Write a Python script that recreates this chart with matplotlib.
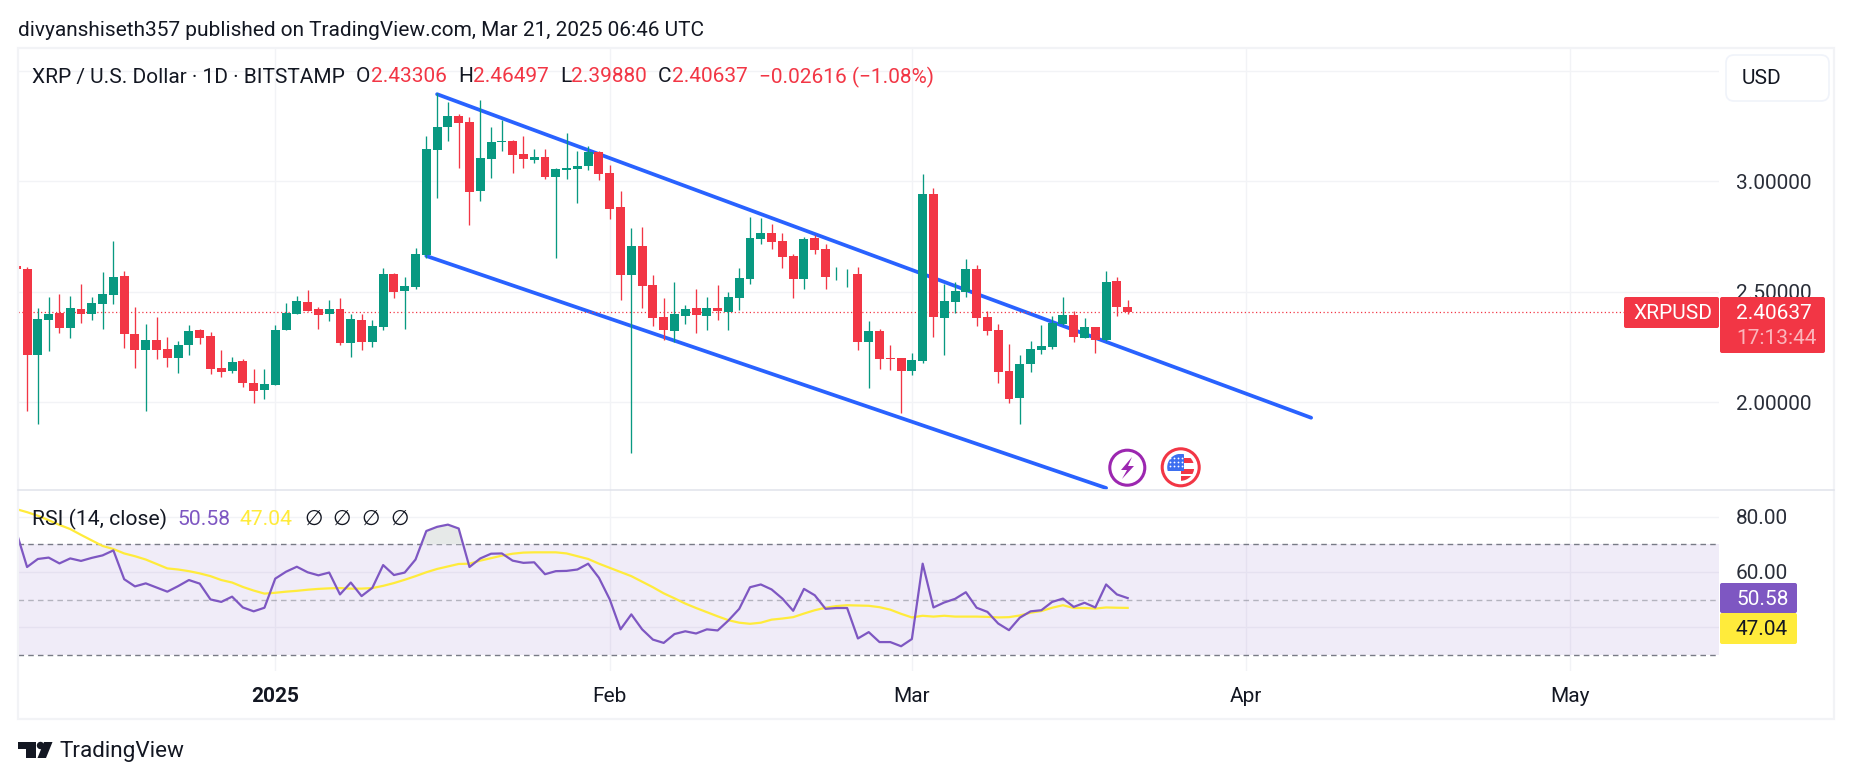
import numpy as np
import matplotlib
matplotlib.use("Agg")
import matplotlib.pyplot as plt
from matplotlib.patches import Rectangle, FancyBboxPatch, Circle, Polygon

W, H = 1852, 781

# daily candles, day 0 = 1 Jan 2025
days = np.arange(-24, 80)
opens = [2.617, 2.603, 2.214, 2.372, 2.404, 2.336, 2.422, 2.400, 2.445, 2.486, 2.572, 2.309, 2.237, 2.282, 2.241, 2.200, 2.259, 2.327, 2.300, 2.155, 2.142, 2.187, 2.087, 2.056,
         2.078, 2.327, 2.400, 2.454, 2.422, 2.400, 2.422, 2.268, 2.372, 2.273, 2.341, 2.581, 2.504, 2.522, 2.667, 3.142, 3.246, 3.296, 3.268, 2.956, 3.101, 3.179, 3.182, 3.124, 3.096, 3.110, 3.020, 3.051, 3.056, 3.069, 3.133, 3.038,
         2.884, 2.576, 2.707, 2.531, 2.386, 2.323, 2.391, 2.427, 2.391, 2.427, 2.409, 2.472, 2.558, 2.739, 2.766, 2.730, 2.662, 2.558, 2.744, 2.694, 2.574, 2.574, 2.581, 2.273, 2.323, 2.202, 2.201, 2.142,
         2.187, 2.943, 2.382, 2.454, 2.499, 2.603, 2.386, 2.327, 2.142, 2.020, 2.173, 2.237, 2.250, 2.354, 2.395, 2.291, 2.341, 2.282, 2.549, 2.43306]
highs = [2.617, 2.611, 2.427, 2.477, 2.490, 2.481, 2.535, 2.477, 2.590, 2.730, 2.594, 2.431, 2.354, 2.386, 2.296, 2.277, 2.350, 2.332, 2.318, 2.237, 2.205, 2.196, 2.151, 2.151,
         2.350, 2.449, 2.481, 2.508, 2.431, 2.463, 2.472, 2.400, 2.400, 2.372, 2.608, 2.585, 2.567, 2.698, 3.205, 3.401, 3.359, 3.305, 3.291, 3.368, 3.246, 3.277, 3.187, 3.205, 3.146, 3.146, 3.060, 3.219, 3.137, 3.160, 3.137, 3.074,
         2.956, 2.789, 2.793, 2.576, 2.472, 2.544, 2.440, 2.513, 2.477, 2.531, 2.499, 2.608, 2.839, 2.834, 2.807, 2.766, 2.671, 2.748, 2.757, 2.716, 2.612, 2.603, 2.612, 2.368, 2.332, 2.259, 2.201, 2.223,
         3.033, 2.970, 2.535, 2.544, 2.648, 2.621, 2.413, 2.354, 2.264, 2.214, 2.277, 2.350, 2.391, 2.477, 2.413, 2.382, 2.341, 2.594, 2.567, 2.46497]
lows = [2.603, 1.961, 1.902, 2.232, 2.314, 2.291, 2.359, 2.372, 2.332, 2.445, 2.246, 2.155, 1.961, 2.196, 2.160, 2.133, 2.214, 2.264, 2.128, 2.115, 2.133, 2.069, 1.997, 2.015,
        2.078, 2.327, 2.400, 2.413, 2.332, 2.368, 2.259, 2.205, 2.237, 2.250, 2.327, 2.472, 2.332, 2.513, 2.653, 2.925, 3.182, 3.060, 2.802, 2.911, 3.015, 3.137, 3.038, 3.060, 3.083, 3.010, 2.653, 3.010, 2.902, 3.051, 3.006, 2.829,
        2.463, 1.771, 2.427, 2.345, 2.282, 2.273, 2.354, 2.314, 2.327, 2.372, 2.327, 2.418, 2.535, 2.716, 2.694, 2.608, 2.472, 2.513, 2.671, 2.513, 2.553, 2.522, 2.237, 2.065, 2.151, 2.146, 1.952, 2.124,
        2.178, 2.296, 2.214, 2.404, 2.477, 2.345, 2.305, 2.087, 1.997, 1.902, 2.137, 2.219, 2.241, 2.350, 2.273, 2.291, 2.223, 2.277, 2.391, 2.39880]
closes = [2.603, 2.214, 2.377, 2.400, 2.336, 2.427, 2.400, 2.449, 2.490, 2.567, 2.309, 2.237, 2.282, 2.237, 2.200, 2.259, 2.323, 2.291, 2.151, 2.137, 2.182, 2.087, 2.051, 2.083,
          2.327, 2.404, 2.458, 2.413, 2.395, 2.422, 2.268, 2.377, 2.273, 2.345, 2.581, 2.499, 2.526, 2.671, 3.146, 3.246, 3.296, 3.264, 2.952, 3.105, 3.178, 3.182, 3.119, 3.101, 3.110, 3.020, 3.056, 3.060, 3.069, 3.133, 3.033, 2.875,
          2.576, 2.707, 2.526, 2.382, 2.327, 2.400, 2.422, 2.395, 2.427, 2.413, 2.477, 2.562, 2.744, 2.766, 2.725, 2.658, 2.558, 2.739, 2.689, 2.567, 2.578, 2.578, 2.273, 2.323, 2.196, 2.198, 2.142, 2.191,
          2.943, 2.386, 2.458, 2.504, 2.603, 2.382, 2.323, 2.137, 2.015, 2.173, 2.241, 2.255, 2.359, 2.395, 2.296, 2.341, 2.282, 2.544, 2.431, 2.40637]

rsi = [74.6, 61.8, 64.7, 65.2, 63.1, 64.9, 64.0, 65.1, 66.0, 67.8, 57.4, 54.8, 55.9, 54.4, 52.9, 54.9, 57.1, 55.8, 50.1, 49.2, 51.1, 47.2, 45.8, 47.1,
       57.6, 60.1, 61.9, 59.9, 58.8, 59.8, 51.9, 56.2, 51.3, 54.3, 62.5, 58.9, 59.8, 64.5, 74.8, 76.3, 77.1, 75.7, 61.8, 64.9, 66.6, 66.7, 64.1, 63.3, 63.5, 59.2, 60.3, 60.4, 60.9, 63.0, 57.9, 50.1,
       39.3, 44.7, 39.3, 35.6, 34.4, 37.6, 38.6, 37.8, 39.3, 38.9, 42.5, 46.7, 54.5, 55.5, 53.7, 50.4, 46.0, 53.9, 51.6, 46.7, 47.0, 47.0, 36.0, 38.3, 34.7, 34.7, 33.2, 35.8,
       63.0, 47.2, 49.0, 50.3, 52.7, 47.1, 45.6, 41.4, 39.0, 43.5, 45.8, 46.2, 49.2, 50.4, 47.4, 48.9, 47.2, 55.5, 51.9, 50.58]
rsi_ma = [82.7, 81.6, 80.3, 78.7, 77.0, 75.5, 73.4, 71.4, 69.4, 68.3, 66.7, 65.7, 64.5, 62.9, 61.3, 60.9, 60.3, 59.5, 58.5, 57.1, 56.2, 54.6, 53.3, 52.2,
          52.5, 52.9, 53.2, 53.6, 53.9, 54.1, 54.2, 54.0, 54.0, 54.2, 55.0, 56.0, 57.2, 58.5, 59.9, 61.1, 62.0, 62.9, 63.0, 64.1, 65.0, 65.9, 66.6, 67.0, 67.1, 67.1, 67.1, 66.7, 65.7, 64.7, 63.0, 61.5,
          60.0, 58.5, 56.5, 54.5, 52.3, 50.5, 48.6, 47.0, 45.5, 44.0, 42.6, 41.7, 41.3, 41.7, 42.8, 43.2, 43.7, 45.0, 46.2, 47.1, 47.7, 48.0, 47.9, 47.8, 47.3, 46.4, 44.9, 43.6,
          44.2, 43.9, 44.2, 43.9, 43.9, 43.9, 43.8, 43.6, 43.7, 44.3, 45.3, 45.9, 47.1, 48.0, 47.0, 47.0, 46.8, 47.2, 47.1, 47.04]

# channel lines: (day, price)
upper_x = [15, 96]
upper_y = [3.394, 1.93]
lower_x = [14, 77]
lower_y = [2.662, 1.612]

last_price = 2.40637
price_ticks = [2.0, 2.5, 3.0, 3.5]
price_labels = ["2.00000", "2.50000", "3.00000", ""]
rsi_ticks = [40, 60, 80]
rsi_labels = ["", "60.00", "80.00"]
month_days = [0, 31, 59, 90, 120]
month_labels = ["2025", "Feb", "Mar", "Apr", "May"]

GREEN = "#089981"
RED = "#F23645"
BLUE = "#2962FF"
PURPLE = "#7E57C2"
YELLOW = "#FFEB3B"
TEXT = "#131722"
GRID = "#F2F3F6"

plt.rcParams["font.family"] = ["Roboto", "DejaVu Sans"]
fig = plt.figure(figsize=(W / 100, H / 100), dpi=100)


def add_ax(left, top, right, bottom):
    return fig.add_axes([left / W, 1 - bottom / H, (right - left) / W, (bottom - top) / H])


ax = add_ax(18, 48, 1719, 490)
ax2 = add_ax(18, 490, 1719, 670.7)
for a in (ax, ax2):
    a.set_xlim(-23.84, 133.8)
    a.set_xticks(month_days)
    a.grid(True, color=GRID, lw=1.0, zorder=0)
    a.set_axisbelow(True)
    a.yaxis.tick_right()
    a.tick_params(length=0, labelsize=15, labelcolor="#2A2E39")
    for s in a.spines.values():
        s.set_visible(False)
ax.set_ylim(1.603, 3.603)
ax2.set_ylim(24.37, 89.6)
ax.set_yticks(price_ticks, price_labels)
ax2.set_yticks(rsi_ticks, rsi_labels)
ax.tick_params(axis="y", pad=12)
ax2.tick_params(axis="y", pad=12)
ax.tick_params(axis="x", labelbottom=False)
ax2.set_xticklabels(month_labels)
ax2.tick_params(axis="x", pad=12, labelsize=15, labelcolor=TEXT)
ax2.get_xticklabels()[0].set_fontweight("bold")

# candles
o, h, l, c = map(np.array, (opens, highs, lows, closes))
cols = [GREEN if cc >= oo else RED for oo, cc in zip(o, c)]
ax.plot(upper_x, upper_y, color=BLUE, lw=2.7, zorder=1, solid_capstyle="round")
ax.plot(lower_x, lower_y, color=BLUE, lw=2.7, zorder=1, solid_capstyle="round")
ax.axhline(last_price, color=RED, lw=0.9, ls=(0, (1, 2)), zorder=1.5)
ax.vlines(days, l, h, colors=cols, lw=0.95, zorder=2)
ax.bar(days, np.abs(c - o), bottom=np.minimum(o, c), width=0.83, color=cols, zorder=3)

# rsi pane
r = np.array(rsi)
ax2.axhspan(30, 70, color=PURPLE, alpha=0.11, lw=0, zorder=1)
ax2.axhline(70, color="#787B86", lw=1, ls=(0, (4, 3)), zorder=2)
ax2.axhline(50, color="#787B86", lw=1, ls=(0, (4, 3)), alpha=0.5, zorder=2)
ax2.axhline(30, color="#787B86", lw=1, ls=(0, (4, 3)), zorder=2)
ax2.fill_between(days, 70, r, where=r > 70, interpolate=True, color="#E6E9E8", lw=0, zorder=2)
ax2.plot(days, rsi_ma, color=YELLOW, lw=1.6, zorder=3)
ax2.plot(days, rsi, color=PURPLE, lw=1.6, zorder=4)

# overlay in pixel coordinates for the tradingview furniture
ov = fig.add_axes([0, 0, 1, 1], zorder=5)
ov.set_xlim(0, W)
ov.set_ylim(H, 0)
ov.axis("off")
ov.patch.set_alpha(0)

ov.add_patch(Rectangle((18, 48), 1816, 671, fill=False, ec="#F2F3F6", lw=1.6))
ov.plot([18, 1834], [490, 490], color="#E0E3EB", lw=1.1)


def label(x, y, s, color=TEXT, size=15, **kw):
    # va=center sits a bit high for this font
    return ov.text(x, y + 1.5, s, color=color, fontsize=size, va="center", **kw)


label(18, 29, "divyanshiseth357 published on TradingView.com, Mar 21, 2025 06:46 UTC", size=15.05)

label(32, 75.5, "XRP / U.S. Dollar · 1D · BITSTAMP", size=15)
for x, s, col in [(356, "O", TEXT), (371, "2.43306", RED), (458, "H", TEXT), (473, "2.46497", RED),
                  (560, "L", TEXT), (571, "2.39880", RED), (658, "C", TEXT), (672, "2.40637", RED),
                  (759, "−0.02616 (−1.08%)", RED)]:
    label(x, 75.5, s, color=col, size=15)

label(32, 518, "RSI (14, close)", size=15.2)
label(177, 518, "50.58", color=PURPLE, size=15.2)
label(240, 518, "47.04", color=YELLOW, size=15.2)
for x in (304, 332, 361, 390):
    label(x, 518, "∅", size=15.2)

# usd button
ov.add_patch(FancyBboxPatch((1726, 55), 103, 46, boxstyle="round,pad=0,rounding_size=8", fc="white", ec="#F0F3FA", lw=1.2))
label(1742, 77, "USD", size=15)

# price labels
ov.add_patch(FancyBboxPatch((1624, 297), 95, 31, boxstyle="round,pad=0,rounding_size=2", fc=RED, ec="none"))
label(1633, 312, "XRPUSD", color="white", size=15)
ov.add_patch(FancyBboxPatch((1720, 297), 105, 56, boxstyle="round,pad=0,rounding_size=2", fc=RED, ec="none"))
label(1736, 312, "2.40637", color="white", size=15)
label(1736, 337, "17:13:44", color="#FBB6BC", size=15)
ov.add_patch(FancyBboxPatch((1720, 583), 77, 30, boxstyle="round,pad=0,rounding_size=2", fc=PURPLE, ec="none"))
label(1736, 598, "50.58", color="white", size=15)
ov.add_patch(FancyBboxPatch((1720, 613), 77, 31, boxstyle="round,pad=0,rounding_size=2", fc=YELLOW, ec="none"))
label(1736, 628, "47.04", color=TEXT, size=15)

# event icons
ov.add_patch(Circle((1127.3, 467.7), 17.5, fc="white", ec="#9C27B0", lw=2.2))
ov.add_patch(Polygon([(1132, 457), (1121, 470), (1127, 470), (1122, 479), (1134, 466), (1128, 466)], fc="#9C27B0", ec="none"))
ov.add_patch(Circle((1180.7, 467.3), 18.5, fc="white", ec=RED, lw=2.2))
flag = Circle((1180.7, 467.3), 13.5, fc="white", ec="none")
ov.add_patch(flag)
for y0, hh in [(458, 5), (468.5, 5), (476, 5.5)]:
    ov.add_patch(Rectangle((1181, y0), 14, hh, fc=RED, ec="none", clip_path=flag))
ov.add_patch(Rectangle((1167, 454), 17, 17, fc="#3D6FF0", ec="none", clip_path=flag))
for sx in (1170, 1174, 1178, 1182):
    for sy in (458, 462, 466):
        ov.plot(sx, sy, "o", ms=1.3, color="white", mew=0)

# tradingview logo
ov.add_patch(Polygon([(17.5, 742), (36, 742), (36, 758), (26, 758), (26, 749), (17.5, 749)], fc=TEXT, ec="none"))
ov.add_patch(Circle((40.5, 745.5), 3.7, fc=TEXT, ec="none"))
ov.add_patch(Polygon([(44, 742), (52.5, 742), (46, 758), (37.5, 758)], fc=TEXT, ec="none"))
label(59, 750, "TradingView", size=16.2)

fig.savefig("out.png", dpi=100, facecolor="white")
